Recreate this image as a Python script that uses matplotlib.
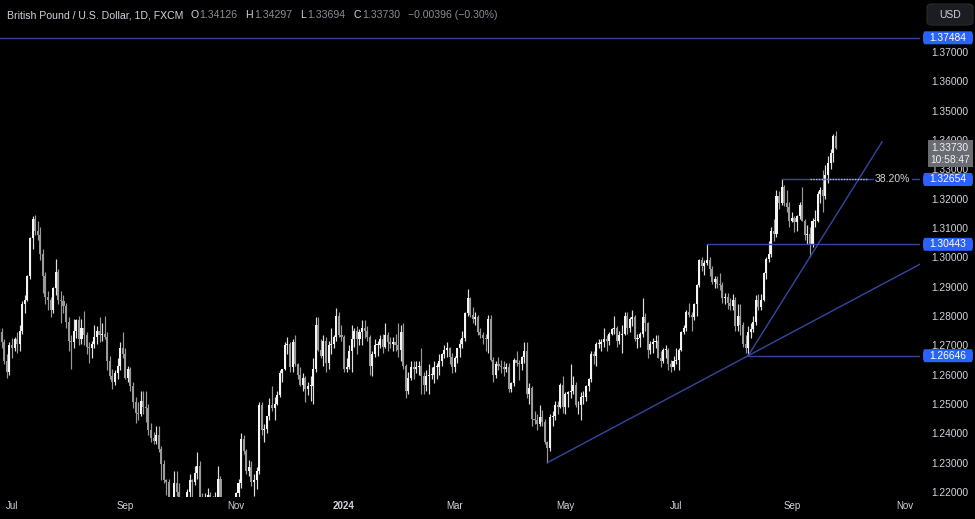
import matplotlib
matplotlib.use("Agg")
import matplotlib.pyplot as plt
import matplotlib.transforms as mtransforms
from matplotlib.patches import Rectangle, FancyBboxPatch
import numpy as np
import pandas as pd

# GBP/USD daily candles, 26 Jun 2023 .. 25 Sep 2024 (one row per week)
opens = [
    1.2715, 1.2745, 1.2710, 1.2645, 1.2610,
    1.2700, 1.2690, 1.2720, 1.2705, 1.2750,
    1.2840, 1.2855, 1.2935, 1.3065, 1.3130,
    1.3090, 1.3075, 1.3010, 1.2935, 1.2865,
    1.2855, 1.2820, 1.2895, 1.2950, 1.2855,
    1.2850, 1.2835, 1.2780, 1.2715, 1.2710,
    1.2750, 1.2785, 1.2720, 1.2760, 1.2735,
    1.2695, 1.2690, 1.2705, 1.2730, 1.2750,
    1.2735, 1.2740, 1.2730, 1.2645, 1.2595,
    1.2575, 1.2605, 1.2630, 1.2690, 1.2670,
    1.2590, 1.2620, 1.2560, 1.2505, 1.2470,
    1.2465, 1.2510, 1.2490, 1.2485, 1.2410,
    1.2385, 1.2375, 1.2395, 1.2345, 1.2295,
    1.2240, 1.2235, 1.2155, 1.2155, 1.2230,
    1.2200, 1.2075, 1.2100, 1.2135, 1.2200,
    1.2240, 1.2235, 1.2265, 1.2290, 1.2180,
    1.2135, 1.2180, 1.2190, 1.2140, 1.2160,
    1.2160, 1.2245, 1.2135, 1.2105, 1.2130,
    1.2125, 1.2160, 1.2150, 1.2195, 1.2230,
    1.2380, 1.2340, 1.2270, 1.2285, 1.2235,
    1.2240, 1.2270, 1.2495, 1.2410, 1.2415,
    1.2460, 1.2495, 1.2485, 1.2500, 1.2530,
    1.2605, 1.2620, 1.2700, 1.2705, 1.2625,
    1.2710, 1.2635, 1.2600, 1.2565, 1.2590,
    1.2550, 1.2560, 1.2560, 1.2620, 1.2770,
    1.2685, 1.2665, 1.2715, 1.2640, 1.2700,
    1.2705, 1.2730, 1.2800, 1.2735,
    1.2730, 1.2620, 1.2625, 1.2680,
    1.2720, 1.2750, 1.2720, 1.2745, 1.2760,
    1.2750, 1.2730, 1.2630, 1.2670, 1.2700,
    1.2700, 1.2720, 1.2695, 1.2735, 1.2710,
    1.2705, 1.2710, 1.2700, 1.2685, 1.2745,
    1.2630, 1.2545, 1.2590, 1.2625, 1.2620,
    1.2625, 1.2630, 1.2595, 1.2565, 1.2595,
    1.2600, 1.2600, 1.2625, 1.2625, 1.2645,
    1.2670, 1.2685, 1.2690, 1.2660, 1.2625,
    1.2655, 1.2690, 1.2705, 1.2725, 1.2810,
    1.2860, 1.2805, 1.2790, 1.2795, 1.2745,
    1.2735, 1.2725, 1.2720, 1.2790, 1.2650,
    1.2600, 1.2635, 1.2630, 1.2625, 1.2620,
    1.2625, 1.2550, 1.2570, 1.2650, 1.2640,
    1.2635, 1.2660, 1.2680, 1.2535, 1.2555,
    1.2450, 1.2445, 1.2430, 1.2455, 1.2440,
    1.2370, 1.2350, 1.2455, 1.2460, 1.2495,
    1.2490, 1.2565, 1.2490, 1.2535, 1.2540,
    1.2545, 1.2565, 1.2495, 1.2495, 1.2525,
    1.2525, 1.2560, 1.2585, 1.2670, 1.2665,
    1.2705, 1.2705, 1.2710, 1.2720, 1.2715,
    1.2740, 1.2755, 1.2760, 1.2715, 1.2735,
    1.2740, 1.2800, 1.2760, 1.2790, 1.2795,
    1.2720, 1.2725, 1.2740, 1.2795, 1.2775,
    1.2685, 1.2705, 1.2710, 1.2715, 1.2655,
    1.2645, 1.2685, 1.2685, 1.2635, 1.2625,
    1.2645, 1.2650, 1.2685, 1.2745, 1.2760,
    1.2815, 1.2805, 1.2795, 1.2840, 1.2905,
    1.2990, 1.2970, 1.2980, 1.2990, 1.2960,
    1.2915, 1.2925, 1.2910, 1.2905, 1.2860,
    1.2865, 1.2845, 1.2835, 1.2855, 1.2765,
    1.2800, 1.2770, 1.2705, 1.2690, 1.2745,
    1.2755, 1.2780, 1.2855, 1.2830, 1.2855,
    1.2945, 1.2995, 1.3010, 1.3090, 1.3080,
    1.3210, 1.3185, 1.3240, 1.3185, 1.3170,
    1.3125, 1.3135, 1.3120, 1.3140, 1.3180,
    1.3125, 1.3075, 1.3080, 1.3045, 1.3125,
    1.3125, 1.3215, 1.3230, 1.3210, 1.3280,
    1.3320, 1.3355, 1.34126,
]
highs = [
    1.2760, 1.2760, 1.2720, 1.2670, 1.2710,
    1.2725, 1.2730, 1.2745, 1.2770, 1.2850,
    1.2870, 1.2940, 1.3070, 1.3140, 1.3143,
    1.3125, 1.3105, 1.3030, 1.2950, 1.2885,
    1.2865, 1.2900, 1.2995, 1.2960, 1.2885,
    1.2870, 1.2845, 1.2795, 1.2735, 1.2790,
    1.2790, 1.2800, 1.2790, 1.2818, 1.2745,
    1.2710, 1.2715, 1.2770, 1.2765, 1.2795,
    1.2775, 1.2800, 1.2745, 1.2665, 1.2620,
    1.2615, 1.2655, 1.2710, 1.2745, 1.2690,
    1.2630, 1.2625, 1.2575, 1.2525, 1.2505,
    1.2545, 1.2545, 1.2545, 1.2500, 1.2435,
    1.2405, 1.2425, 1.2425, 1.2355, 1.2310,
    1.2245, 1.2245, 1.2175, 1.2270, 1.2270,
    1.2230, 1.2135, 1.2150, 1.2210, 1.2260,
    1.2245, 1.2290, 1.2337, 1.2305, 1.2195,
    1.2195, 1.2215, 1.2200, 1.2185, 1.2200,
    1.2290, 1.2255, 1.2160, 1.2135, 1.2155,
    1.2175, 1.2175, 1.2200, 1.2245, 1.2400,
    1.2395, 1.2345, 1.2310, 1.2305, 1.2260,
    1.2285, 1.2505, 1.2505, 1.2430, 1.2460,
    1.2520, 1.2560, 1.2525, 1.2545, 1.2615,
    1.2620, 1.2710, 1.2730, 1.2710, 1.2720,
    1.2735, 1.2640, 1.2625, 1.2605, 1.2595,
    1.2575, 1.2595, 1.2655, 1.2795, 1.2795,
    1.2720, 1.2735, 1.2730, 1.2715, 1.2760,
    1.2735, 1.2827, 1.2815, 1.2770,
    1.2735, 1.2655, 1.2700, 1.2770,
    1.2760, 1.2765, 1.2755, 1.2785, 1.2785,
    1.2765, 1.2735, 1.2680, 1.2720, 1.2715,
    1.2735, 1.2740, 1.2775, 1.2745, 1.2730,
    1.2730, 1.2740, 1.2775, 1.2770, 1.2775,
    1.2635, 1.2610, 1.2645, 1.2645, 1.2645,
    1.2645, 1.2690, 1.2610, 1.2615, 1.2635,
    1.2625, 1.2645, 1.2640, 1.2670, 1.2675,
    1.2700, 1.2710, 1.2695, 1.2675, 1.2665,
    1.2690, 1.2720, 1.2750, 1.2815, 1.2893,
    1.2865, 1.2830, 1.2815, 1.2805, 1.2760,
    1.2745, 1.2740, 1.2805, 1.2805, 1.2660,
    1.2645, 1.2660, 1.2650, 1.2645, 1.2640,
    1.2640, 1.2575, 1.2655, 1.2680, 1.2650,
    1.2665, 1.2710, 1.2710, 1.2570, 1.2560,
    1.2475, 1.2465, 1.2495, 1.2480, 1.2450,
    1.2375, 1.2465, 1.2475, 1.2510, 1.2510,
    1.2570, 1.2595, 1.2540, 1.2545, 1.2635,
    1.2595, 1.2575, 1.2510, 1.2540, 1.2545,
    1.2565, 1.2590, 1.2680, 1.2680, 1.2710,
    1.2720, 1.2720, 1.2760, 1.2735, 1.2745,
    1.2760, 1.2800, 1.2765, 1.2750, 1.2770,
    1.2815, 1.2815, 1.2795, 1.2820, 1.2805,
    1.2740, 1.2745, 1.2860, 1.2810, 1.2780,
    1.2715, 1.2725, 1.2735, 1.2735, 1.2680,
    1.2690, 1.2700, 1.2690, 1.2650, 1.2665,
    1.2690, 1.2690, 1.2750, 1.2770, 1.2820,
    1.2845, 1.2815, 1.2845, 1.2910, 1.2995,
    1.3000, 1.2990, 1.3044, 1.3000, 1.2970,
    1.2935, 1.2935, 1.2945, 1.2915, 1.2880,
    1.2880, 1.2860, 1.2875, 1.2865, 1.2840,
    1.2840, 1.2780, 1.2735, 1.2765, 1.2775,
    1.2800, 1.2870, 1.2875, 1.2875, 1.2950,
    1.3000, 1.3055, 1.3105, 1.3130, 1.3230,
    1.3225, 1.3266, 1.3245, 1.3230, 1.3190,
    1.3155, 1.3140, 1.3145, 1.3190, 1.3240,
    1.3130, 1.3110, 1.3105, 1.3135, 1.3160,
    1.3225, 1.3240, 1.3297, 1.3315, 1.3345,
    1.3370, 1.3420, 1.34297,
]
lows = [
    1.2700, 1.2690, 1.2635, 1.2590, 1.2600,
    1.2655, 1.2680, 1.2675, 1.2680, 1.2740,
    1.2810, 1.2850, 1.2925, 1.3030, 1.3075,
    1.3060, 1.2990, 1.2880, 1.2840, 1.2820,
    1.2795, 1.2810, 1.2870, 1.2840, 1.2775,
    1.2810, 1.2760, 1.2680, 1.2620, 1.2690,
    1.2725, 1.2700, 1.2705, 1.2700, 1.2670,
    1.2640, 1.2655, 1.2690, 1.2705, 1.2710,
    1.2715, 1.2720, 1.2615, 1.2585, 1.2550,
    1.2565, 1.2585, 1.2615, 1.2655, 1.2585,
    1.2575, 1.2545, 1.2485, 1.2435, 1.2445,
    1.2460, 1.2465, 1.2440, 1.2395, 1.2370,
    1.2365, 1.2365, 1.2335, 1.2240, 1.2230,
    1.2190, 1.2140, 1.2110, 1.2125, 1.2185,
    1.2070, 1.2055, 1.2037, 1.2130, 1.2125,
    1.2170, 1.2225, 1.2245, 1.2170, 1.2125,
    1.2120, 1.2130, 1.2130, 1.2110, 1.2130,
    1.2150, 1.2130, 1.2090, 1.2070, 1.2110,
    1.2115, 1.2100, 1.2110, 1.2170, 1.2215,
    1.2330, 1.2260, 1.2255, 1.2220, 1.2185,
    1.2210, 1.2260, 1.2395, 1.2370, 1.2400,
    1.2445, 1.2475, 1.2445, 1.2495, 1.2525,
    1.2575, 1.2615, 1.2670, 1.2610, 1.2610,
    1.2630, 1.2585, 1.2560, 1.2545, 1.2505,
    1.2530, 1.2510, 1.2500, 1.2610, 1.2680,
    1.2655, 1.2630, 1.2610, 1.2620, 1.2670,
    1.2690, 1.2715, 1.2730, 1.2715,
    1.2610, 1.2610, 1.2620, 1.2610,
    1.2695, 1.2670, 1.2700, 1.2700, 1.2725,
    1.2715, 1.2600, 1.2595, 1.2660, 1.2665,
    1.2690, 1.2675, 1.2690, 1.2680, 1.2690,
    1.2680, 1.2680, 1.2660, 1.2645, 1.2620,
    1.2520, 1.2535, 1.2580, 1.2585, 1.2605,
    1.2600, 1.2535, 1.2535, 1.2545, 1.2535,
    1.2585, 1.2570, 1.2585, 1.2600, 1.2630,
    1.2655, 1.2660, 1.2635, 1.2605, 1.2610,
    1.2640, 1.2660, 1.2690, 1.2715, 1.2800,
    1.2795, 1.2775, 1.2770, 1.2735, 1.2725,
    1.2705, 1.2680, 1.2675, 1.2645, 1.2575,
    1.2590, 1.2615, 1.2605, 1.2595, 1.2610,
    1.2540, 1.2540, 1.2560, 1.2630, 1.2580,
    1.2615, 1.2640, 1.2520, 1.2500, 1.2425,
    1.2430, 1.2410, 1.2425, 1.2425, 1.2365,
    1.2300, 1.2340, 1.2425, 1.2445, 1.2465,
    1.2485, 1.2470, 1.2465, 1.2490, 1.2520,
    1.2535, 1.2490, 1.2465, 1.2445, 1.2500,
    1.2510, 1.2545, 1.2575, 1.2635, 1.2630,
    1.2690, 1.2680, 1.2695, 1.2680, 1.2700,
    1.2735, 1.2740, 1.2695, 1.2705, 1.2675,
    1.2735, 1.2740, 1.2745, 1.2765, 1.2715,
    1.2690, 1.2695, 1.2730, 1.2750, 1.2655,
    1.2670, 1.2675, 1.2690, 1.2655, 1.2625,
    1.2640, 1.2655, 1.2615, 1.2610, 1.2615,
    1.2635, 1.2615, 1.2680, 1.2740, 1.2750,
    1.2795, 1.2750, 1.2785, 1.2800, 1.2900,
    1.2955, 1.2940, 1.2975, 1.2935, 1.2910,
    1.2895, 1.2895, 1.2890, 1.2845, 1.2840,
    1.2825, 1.2820, 1.2820, 1.2750, 1.2750,
    1.2735, 1.2695, 1.2675, 1.2665, 1.2725,
    1.2745, 1.2770, 1.2820, 1.2820, 1.2850,
    1.2925, 1.2985, 1.3000, 1.3055, 1.3070,
    1.3165, 1.3180, 1.3175, 1.3155, 1.3105,
    1.3120, 1.3085, 1.3090, 1.3130, 1.3125,
    1.3060, 1.3045, 1.3001, 1.3035, 1.3105,
    1.3120, 1.3185, 1.3155, 1.3200, 1.3255,
    1.3300, 1.3325, 1.33694,
]
closes = [
    1.2745, 1.2710, 1.2645, 1.2610, 1.2700,
    1.2690, 1.2720, 1.2705, 1.2750, 1.2840,
    1.2855, 1.2935, 1.3065, 1.3130, 1.3090,
    1.3075, 1.3010, 1.2935, 1.2865, 1.2855,
    1.2820, 1.2895, 1.2950, 1.2855, 1.2850,
    1.2835, 1.2780, 1.2715, 1.2710, 1.2750,
    1.2785, 1.2720, 1.2760, 1.2735, 1.2695,
    1.2690, 1.2705, 1.2730, 1.2750, 1.2735,
    1.2740, 1.2730, 1.2645, 1.2595, 1.2575,
    1.2605, 1.2630, 1.2690, 1.2670, 1.2590,
    1.2620, 1.2560, 1.2505, 1.2470, 1.2465,
    1.2510, 1.2490, 1.2485, 1.2410, 1.2385,
    1.2375, 1.2395, 1.2345, 1.2295, 1.2240,
    1.2235, 1.2155, 1.2155, 1.2230, 1.2200,
    1.2075, 1.2100, 1.2135, 1.2200, 1.2240,
    1.2235, 1.2265, 1.2290, 1.2180, 1.2135,
    1.2180, 1.2190, 1.2140, 1.2160, 1.2160,
    1.2245, 1.2135, 1.2105, 1.2130, 1.2125,
    1.2160, 1.2150, 1.2195, 1.2230, 1.2380,
    1.2340, 1.2270, 1.2285, 1.2235, 1.2240,
    1.2270, 1.2495, 1.2410, 1.2415, 1.2460,
    1.2495, 1.2485, 1.2500, 1.2530, 1.2605,
    1.2620, 1.2700, 1.2705, 1.2625, 1.2710,
    1.2635, 1.2600, 1.2565, 1.2590, 1.2550,
    1.2560, 1.2560, 1.2620, 1.2770, 1.2685,
    1.2665, 1.2715, 1.2640, 1.2700, 1.2705,
    1.2730, 1.2800, 1.2735, 1.2730,
    1.2620, 1.2625, 1.2680, 1.2720,
    1.2750, 1.2720, 1.2745, 1.2760, 1.2750,
    1.2730, 1.2630, 1.2670, 1.2700, 1.2700,
    1.2720, 1.2695, 1.2735, 1.2710, 1.2705,
    1.2710, 1.2700, 1.2685, 1.2745, 1.2630,
    1.2545, 1.2590, 1.2625, 1.2620, 1.2625,
    1.2630, 1.2595, 1.2565, 1.2595, 1.2600,
    1.2600, 1.2625, 1.2625, 1.2645, 1.2670,
    1.2685, 1.2690, 1.2660, 1.2625, 1.2655,
    1.2690, 1.2705, 1.2725, 1.2810, 1.2860,
    1.2805, 1.2790, 1.2795, 1.2745, 1.2735,
    1.2725, 1.2720, 1.2790, 1.2650, 1.2600,
    1.2635, 1.2630, 1.2625, 1.2620, 1.2625,
    1.2550, 1.2570, 1.2650, 1.2640, 1.2635,
    1.2660, 1.2680, 1.2535, 1.2555, 1.2450,
    1.2445, 1.2430, 1.2455, 1.2440, 1.2370,
    1.2350, 1.2455, 1.2460, 1.2495, 1.2490,
    1.2565, 1.2490, 1.2535, 1.2540, 1.2545,
    1.2565, 1.2495, 1.2495, 1.2525, 1.2525,
    1.2560, 1.2585, 1.2670, 1.2665, 1.2705,
    1.2705, 1.2710, 1.2720, 1.2715, 1.2740,
    1.2755, 1.2760, 1.2715, 1.2735, 1.2740,
    1.2800, 1.2760, 1.2790, 1.2795, 1.2720,
    1.2725, 1.2740, 1.2795, 1.2775, 1.2685,
    1.2705, 1.2710, 1.2715, 1.2655, 1.2645,
    1.2685, 1.2685, 1.2635, 1.2625, 1.2645,
    1.2650, 1.2685, 1.2745, 1.2760, 1.2815,
    1.2805, 1.2795, 1.2840, 1.2905, 1.2990,
    1.2970, 1.2980, 1.2990, 1.2960, 1.2915,
    1.2925, 1.2910, 1.2905, 1.2860, 1.2865,
    1.2845, 1.2835, 1.2855, 1.2765, 1.2800,
    1.2770, 1.2705, 1.2690, 1.2745, 1.2755,
    1.2780, 1.2855, 1.2830, 1.2855, 1.2945,
    1.2995, 1.3010, 1.3090, 1.3080, 1.3210,
    1.3185, 1.3240, 1.3185, 1.3170, 1.3125,
    1.3135, 1.3120, 1.3140, 1.3180, 1.3125,
    1.3075, 1.3080, 1.3045, 1.3125, 1.3125,
    1.3215, 1.3230, 1.3210, 1.3280, 1.3320,
    1.3355, 1.3415, 1.33730,
]

start_date = "2023-06-26"
axis_end_date = "2024-12-20"
closed_days = ["2023-12-25", "2024-01-01"]

tick_months = ["2023-07", "2023-09", "2023-11", "2024-01", "2024-03",
               "2024-05", "2024-07", "2024-09", "2024-11"]
tick_labels = ["Jul", "Sep", "Nov", "2024", "Mar", "May", "Jul", "Sep", "Nov"]
price_ticks = [1.22, 1.23, 1.24, 1.25, 1.26, 1.27, 1.28, 1.29, 1.30,
               1.31, 1.32, 1.33, 1.34, 1.35, 1.36, 1.37]

# drawn levels and trend lines
top_level = 1.37484
fib_level = 1.32654
jul_high = 1.30443
aug_low = 1.26646
apr_low = 1.2300
sep_low = 1.3001
apr_low_date = "2024-04-22"
jul_high_date = "2024-07-17"
aug_low_date = "2024-08-08"
aug_high_date = "2024-08-27"
sep_low_date = "2024-09-11"
fib_end_date = "2024-10-11"
trend2_end_date = "2024-10-21"

last_price = 1.33730
countdown = "10:58:47"

title = "British Pound / U.S. Dollar, 1D, FXCM"
header = [("O", "1.34126"), ("H", "1.34297"), ("L", "1.33694"), ("C", "1.33730")]
change = "\u22120.00396 (\u22120.30%)"

# ---------------------------------------------------------------
days = pd.bdate_range(start_date, axis_end_date).drop(pd.to_datetime(closed_days))
pos = pd.Series(np.arange(len(days)), index=days)

def dpos(s):
    return pos[pd.Timestamp(s)]

def month_pos(m):
    p = pd.Period(m)
    return pos[(days.year == p.year) & (days.month == p.month)].iloc[0]

o = np.array(opens)
h = np.array(highs)
l = np.array(lows)
c = np.array(closes)
x = np.arange(len(c))

BG = "#000000"
TXT = "#d1d4dc"
GREY = "#8b8e98"
LINE = "#3546a0"
BLUE = "#2962ff"
FONT = "Liberation Sans"

W, H = 975, 519
fig = plt.figure(figsize=(W / 100, H / 100), dpi=100, facecolor=BG)
ax = fig.add_axes([0, 22 / H, 920 / W, 497 / H])
ax.set_facecolor(BG)
for s in ax.spines.values():
    s.set_visible(False)

# scales: 2.574 px per trading day, 2933 px per 1.0 of price
px_day = 2.574
x0 = month_pos("2023-07")
ax.set_xlim(x0 - 12 / px_day, x0 + 908 / px_day)
ax.set_ylim(1.37 - 445 / 2933, 1.37 + 52 / 2933)

up = c >= o
body_col = np.where(up, "#f4f4f4", "#9a9a9a")
wick_col = np.where(up, "#e0e0e0", "#9a9a9a")
ax.vlines(x, l, h, colors=wick_col, linewidth=0.85, zorder=2)
ax.bar(x, np.maximum(np.abs(c - o), 0.0003), bottom=np.minimum(o, c),
       width=0.8, color=body_col, linewidth=0, zorder=3)

xr = ax.get_xlim()[1]
# horizontal levels
ax.plot([ax.get_xlim()[0], xr], [top_level] * 2, color=LINE, lw=1, zorder=4)
ax.plot([dpos(jul_high_date), xr], [jul_high] * 2, color=LINE, lw=1, zorder=4)
ax.plot([dpos(aug_low_date), xr], [aug_low] * 2, color=LINE, lw=1, zorder=4)
ax.plot([dpos(aug_high_date), xr], [fib_level] * 2, color=LINE, lw=1, zorder=4)
ax.plot([dpos(sep_low_date), dpos(fib_end_date)], [fib_level] * 2,
        color="#b8bcc8", lw=1, ls=(0, (1, 1)), zorder=5)
trans_x_axes = mtransforms.blended_transform_factory(ax.transAxes, ax.transData)
ax.text(875 / 920, fib_level, "38.20%", transform=trans_x_axes, color=TXT,
        fontsize=7.5, family=FONT, va="center", ha="left", zorder=6,
        bbox=dict(fc=BG, ec="none", pad=1.0))

# trend lines
xa, xb = dpos(apr_low_date), dpos(aug_low_date)
slope1 = (aug_low - apr_low) / (xb - xa)
ax.plot([xa, xr], [apr_low, aug_low + slope1 * (xr - xb)], color=LINE, lw=1, zorder=4)
xs = dpos(sep_low_date)
slope2 = (sep_low - aug_low) / (xs - xb)
xe = dpos(trend2_end_date)
ax.plot([xb, xe], [aug_low, aug_low + slope2 * (xe - xb)], color=LINE, lw=1, zorder=4)

# axes ticks
ax.set_xticks([month_pos(m) for m in tick_months])
ax.set_xticklabels(tick_labels)
ax.tick_params(axis="x", length=0, pad=3, labelsize=7, labelcolor=TXT)
for lab in ax.get_xticklabels():
    lab.set_family(FONT)
    if lab.get_text() == "2024":
        lab.set_fontweight("bold")
ax.yaxis.tick_right()
ax.set_yticks(price_ticks)
ax.set_yticklabels([f"{p:.5f}" for p in price_ticks])
ax.tick_params(axis="y", length=0, pad=8, labelsize=7.4, labelcolor=TXT)
for lab in ax.get_yticklabels():
    lab.set_family(FONT)

# price labels on the scale
trans_fig_data = mtransforms.blended_transform_factory(fig.transFigure, ax.transData)
ppx = 1 / 2933
for lvl in [top_level, fib_level, jul_high, aug_low]:
    fig.patches.append(FancyBboxPatch((923 / W, lvl - 6.5 * ppx), 50 / W, 13 * ppx,
                                      boxstyle="round,pad=0,rounding_size=0.002",
                                      transform=trans_fig_data, fc=BLUE, ec="none",
                                      zorder=5, clip_on=False))
    fig.text(948 / W, lvl, f"{lvl:.5f}", transform=trans_fig_data, color="white",
             fontsize=7.4, family=FONT, ha="center", va="center", zorder=6)

fig.patches.append(Rectangle((928 / W, last_price - 19 * ppx), 45 / W, 27 * ppx,
                             transform=trans_fig_data, fc="#6a6c73", ec="none",
                             zorder=5, clip_on=False))
fig.text(950 / W, last_price, f"{last_price:.5f}", transform=trans_fig_data,
         color="#f0f0f0", fontsize=7.4, family=FONT,
         ha="center", va="center", zorder=6)
fig.text(950 / W, last_price - 12.5 * ppx, countdown, transform=trans_fig_data,
         color="#f0f0f0", fontsize=7.4, family=FONT,
         ha="center", va="center", zorder=6)

# currency button
fig.patches.append(FancyBboxPatch((927 / W, 1 - 25 / H), 46 / W, 21 / H,
                                  boxstyle="round,pad=0,rounding_size=0.006",
                                  transform=fig.transFigure, fc="#1c1d22",
                                  ec="#2a2b31", lw=0.8, zorder=5))
fig.text(950 / W, 1 - 14.5 / H, "USD", color=TXT, fontsize=7.5,
         family=FONT, ha="center", va="center", zorder=6)

# header line, laid out left to right
renderer = fig.canvas.get_renderer()
ty = 1 - 15 / H
cur = 7

def put(s, col, gap):
    global cur
    t = fig.text(cur / W, ty, s, color=col, fontsize=7.6, family=FONT,
                 va="center", ha="left")
    cur = t.get_window_extent(renderer).x1 + gap

put(title, TXT, 7)
for letter, val in header:
    put(letter, TXT, 1)
    put(val, GREY, 8)
put(change, GREY, 0)

fig.savefig("out.png", dpi=100, facecolor=BG)
